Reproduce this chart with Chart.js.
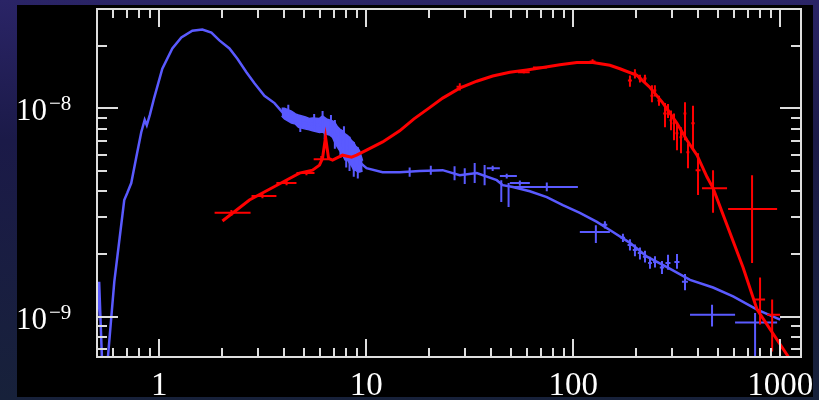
<!DOCTYPE html>
<html>
<head>
<meta charset="utf-8">
<script src="https://cdn.jsdelivr.net/npm/chart.js@4.4.1/dist/chart.umd.min.js"></script>
<style>
  html, body { margin: 0; padding: 0; }
  body {
    width: 819px; height: 400px; overflow: hidden; position: relative;
    background: linear-gradient(180deg, #2a2466 0%, #1b1a48 35%, #17213a 100%);
  }
  #panel { position: absolute; left: 17px; top: 5px; width: 796px; height: 392px; background: #000; }
  #wrap { position: absolute; left: 0; top: 0; width: 819px; height: 400px; }
</style>
</head>
<body>
<div id="panel"></div>
<div id="wrap"><canvas id="c"></canvas></div>
<script>
// axis ranges (keV, flux)
const X_MIN = 0.5, X_MAX = 1260;
const Y_MIN = 6.4e-10, Y_MAX = 3e-8;

const xTicks = [1, 10, 100, 1000];
const xTickLabels = ['1', '10', '100', '1000'];
const yTicks = [1e-8, 1e-9];
const yTickExp = ['\u22128', '\u22129'];

// model curves: [energy, flux]
const blueModel = [
  [0.5, 9.6e-10], [0.512, 1.47e-9], [0.53, 5.8e-10], [0.56, 5.8e-10], [0.606, 1.47e-9],
  [0.677, 3.63e-9], [0.70, 3.92e-9], [0.732, 4.38e-9], [0.774, 5.83e-9], [0.818, 7.68e-9],
  [0.85, 8.8e-9], [0.87, 8.3e-9], [0.90, 9.3e-9], [0.946, 1.13e-8], [1.034, 1.55e-8],
  [1.156, 1.94e-8], [1.278, 2.19e-8], [1.444, 2.36e-8], [1.614, 2.39e-8], [1.785, 2.31e-8],
  [1.951, 2.12e-8], [2.182, 1.94e-8], [2.384, 1.73e-8], [2.636, 1.49e-8], [2.882, 1.32e-8],
  [3.221, 1.15e-8], [3.601, 1.06e-8], [3.937, 9.57e-9], [4.40, 8.76e-9], [5.14, 8.48e-9],
  [5.94, 8.29e-9], [6.80, 8.11e-9], [7.18, 7.27e-9], [8.03, 6.51e-9], [8.59, 6.16e-9],
  [9.28, 5.51e-9], [10.03, 5.16e-9], [11.99, 4.94e-9], [14.49, 4.94e-9], [18.11, 5.0e-9],
  [23.39, 5.05e-9], [28.28, 4.78e-9], [34.17, 4.89e-9], [42.7, 4.52e-9], [45.65, 4.28e-9],
  [51.04, 4.19e-9], [61.66, 4.0e-9], [74.53, 3.75e-9], [89.05, 3.43e-9], [107.6, 3.15e-9],
  [130.1, 2.85e-9], [155.5, 2.55e-9], [187.9, 2.26e-9], [227.1, 1.94e-9], [283.8, 1.73e-9],
  [366.6, 1.50e-9], [473.6, 1.38e-9], [591.9, 1.25e-9], [773.2, 1.08e-9], [998.9, 9.67e-10]
];

// noisy spectrum band around the iron region: [energy, low, high]
const blueBand = [
  [3.9, 9.2e-9, 1.0e-8], [4.024, 8.9e-9, 1.0e-8], [4.351, 8.5e-9, 9.7e-9], [4.55, 8.4e-9, 9.4e-9],
  [4.704, 8.1e-9, 9.3e-9], [5.086, 7.95e-9, 9.1e-9], [5.3, 7.9e-9, 8.95e-9], [5.499, 7.8e-9, 9.0e-9],
  [5.943, 7.65e-9, 8.95e-9], [6.15, 7.7e-9, 9.2e-9], [6.427, 7.5e-9, 8.9e-9], [6.65, 7.45e-9, 8.8e-9],
  [6.871, 7.25e-9, 8.7e-9], [7.05, 6.85e-9, 8.55e-9], [7.263, 6.5e-9, 8.15e-9], [7.45, 6.25e-9, 7.95e-9],
  [7.68, 6.0e-9, 7.8e-9], [7.9, 5.65e-9, 7.55e-9], [8.121, 5.65e-9, 7.4e-9], [8.3, 5.45e-9, 7.25e-9],
  [8.49, 5.3e-9, 7.0e-9], [8.7, 5.05e-9, 6.85e-9], [8.876, 5.05e-9, 6.6e-9], [9.1, 4.95e-9, 6.45e-9],
  [9.282, 4.95e-9, 6.25e-9], [9.6, 5.0e-9, 5.6e-9]
];

const redModel = [
  [2.018, 2.88e-9], [2.725, 3.63e-9], [3.937, 4.42e-9], [4.756, 4.89e-9], [5.499, 5.05e-9],
  [5.943, 5.34e-9], [6.146, 5.76e-9], [6.356, 7.27e-9], [6.572, 5.76e-9], [6.871, 5.64e-9],
  [7.68, 5.96e-9], [8.49, 5.83e-9], [8.977, 5.96e-9], [10.03, 6.30e-9], [12.0, 6.9e-9],
  [14.5, 7.8e-9], [17.0, 8.9e-9], [20.0, 1.0e-8], [23.4, 1.12e-8], [28.28, 1.25e-8],
  [34.17, 1.35e-8], [40.83, 1.43e-8], [49.36, 1.49e-8], [59.65, 1.53e-8], [71.28, 1.57e-8],
  [86.14, 1.62e-8], [104.1, 1.66e-8], [124.4, 1.66e-8], [150.3, 1.61e-8], [168.1, 1.55e-8],
  [203.1, 1.44e-8], [234.8, 1.26e-8], [271.4, 1.06e-8], [317.1, 8.48e-9], [354.4, 7.03e-9],
  [396.3, 5.96e-9], [443.0, 4.68e-9], [473.6, 4.14e-9], [661.5, 1.72e-9], [773.2, 1.08e-9],
  [1092, 6.44e-10], [1150, 5.8e-10]
];

// data points: [x, xLo, xHi, y, yLo, yHi]
const blueCrosses = [
  [4.2, 4.2, 4.2, 9.5e-9, 9.0e-9, 1.04e-8], [4.8, 4.8, 4.8, 8.6e-9, 7.7e-9, 9.2e-9],
  [5.6, 5.6, 5.6, 8.4e-9, 7.8e-9, 9.4e-9], [6.3, 6.3, 6.3, 8.1e-9, 7.1e-9, 8.9e-9],
  [6.75, 6.75, 6.75, 8.0e-9, 7.4e-9, 9.3e-9], [7.5, 7.5, 7.5, 7.0e-9, 5.8e-9, 7.9e-9],
  [7.8, 7.8, 7.8, 6.8e-9, 6.0e-9, 8.2e-9], [8.0, 8.0, 8.0, 6.4e-9, 5.2e-9, 7.4e-9],
  [6.15, 6.15, 6.15, 8.3e-9, 7.7e-9, 9.7e-9], [7.05, 7.05, 7.05, 7.7e-9, 6.4e-9, 8.8e-9],
  [8.3, 8.3, 8.3, 6.3e-9, 5.0e-9, 7.3e-9], [8.7, 8.7, 8.7, 5.9e-9, 4.7e-9, 6.9e-9],
  [9.1, 9.1, 9.1, 5.6e-9, 4.6e-9, 6.5e-9],
  [16.2, 16.2, 16.2, 4.97e-9, 4.7e-9, 5.2e-9], [20.5, 20.5, 20.5, 5.05e-9, 4.8e-9, 5.3e-9],
  [26.7, 26.7, 26.7, 4.94e-9, 4.52e-9, 5.28e-9], [29.9, 29.9, 29.9, 4.73e-9, 4.33e-9, 5.16e-9],
  [33.4, 33.4, 33.4, 4.89e-9, 4.38e-9, 5.46e-9], [37.3, 37.3, 37.3, 4.78e-9, 4.28e-9, 5.34e-9],
  [44.9, 44.9, 44.9, 4.28e-9, 3.55e-9, 4.52e-9], [48.7, 48.7, 48.7, 4.05e-9, 3.36e-9, 4.38e-9],
  [40.8, 38.2, 44.2, 5.16e-9, 5.0e-9, 5.3e-9], [47.7, 44.2, 53.4, 4.73e-9, 4.6e-9, 4.85e-9],
  [55.2, 49.4, 61.7, 4.38e-9, 4.25e-9, 4.5e-9], [74.5, 51.0, 105.3, 4.19e-9, 4.0e-9, 4.4e-9],
  [128.6, 107.6, 150.3, 2.55e-9, 2.26e-9, 2.75e-9], [142.2, 138, 146, 2.76e-9, 2.65e-9, 2.87e-9],
  [173.8, 169, 178, 2.39e-9, 2.28e-9, 2.5e-9], [187.9, 183, 193, 2.21e-9, 2.08e-9, 2.35e-9],
  [198.6, 194, 203, 2.09e-9, 1.95e-9, 2.22e-9], [210, 205, 215, 2.02e-9, 1.88e-9, 2.15e-9],
  [222.1, 217, 227, 1.94e-9, 1.82e-9, 2.07e-9], [234.8, 230, 240, 1.81e-9, 1.70e-9, 1.94e-9],
  [248.3, 243, 254, 1.83e-9, 1.72e-9, 1.95e-9], [268.3, 262, 275, 1.72e-9, 1.60e-9, 1.85e-9],
  [287, 279, 295, 1.81e-9, 1.68e-9, 1.98e-9], [317.1, 308, 326, 1.83e-9, 1.70e-9, 2.0e-9],
  [346.7, 335, 358, 1.47e-9, 1.34e-9, 1.60e-9], [468.3, 366.6, 605.2, 1.02e-9, 8.96e-10, 1.14e-9],
  [756, 605, 966, 9.36e-10, 5.5e-10, 1.04e-9]
];

const redCrosses = [
  [2.23, 1.85, 2.76, 3.15e-9, 3.05e-9, 3.25e-9], [3.15, 2.79, 3.68, 3.79e-9, 3.7e-9, 3.9e-9],
  [4.12, 3.68, 4.60, 4.38e-9, 4.28e-9, 4.48e-9], [5.14, 4.60, 5.62, 4.89e-9, 4.78e-9, 5.0e-9],
  [6.06, 5.57, 6.72, 5.70e-9, 5.55e-9, 5.9e-9], [28.3, 27.3, 29.3, 1.27e-8, 1.22e-8, 1.32e-8],
  [57.7, 54.0, 61.6, 1.49e-8, 1.47e-8, 1.51e-8], [69.0, 63.9, 74.6, 1.57e-8, 1.55e-8, 1.59e-8],
  [124, 120, 128, 1.68e-8, 1.64e-8, 1.72e-8], [187.9, 183.7, 192, 1.36e-8, 1.27e-8, 1.44e-8],
  [198.6, 195, 202, 1.47e-8, 1.39e-8, 1.54e-8], [210, 206, 214, 1.39e-8, 1.33e-8, 1.45e-8],
  [222, 218, 226, 1.39e-8, 1.33e-8, 1.45e-8], [240, 236, 244, 1.15e-8, 1.07e-8, 1.29e-8],
  [248, 244, 252, 1.22e-8, 1.14e-8, 1.29e-8], [259.6, 255, 264, 1.09e-8, 1.03e-8, 1.15e-8],
  [277.5, 272, 283, 9.46e-9, 8.11e-9, 1.06e-8], [287, 282, 292, 9.78e-9, 9.0e-9, 1.05e-8],
  [296.7, 292, 301, 8.76e-9, 7.85e-9, 9.78e-9], [306.7, 302, 311, 8.48e-9, 7.03e-9, 9.46e-9],
  [317.1, 312, 322, 7.59e-9, 6.30e-9, 8.48e-9], [331.6, 326, 337, 7.27e-9, 6.09e-9, 8.11e-9],
  [346.7, 341, 352, 9.46e-9, 7.03e-9, 1.07e-8], [358.4, 352, 364, 6.16e-9, 5.16e-9, 6.80e-9],
  [378.9, 372, 386, 8.48e-9, 6.44e-9, 1.03e-8], [400.7, 390, 412, 5.05e-9, 3.84e-9, 6.09e-9],
  [473.6, 419, 553.5, 4.14e-9, 3.15e-9, 5.05e-9], [731, 560, 966, 3.29e-9, 1.81e-9, 4.78e-9],
  [799, 756, 845, 1.21e-9, 9.16e-10, 1.54e-9], [914, 864, 999, 1.02e-9, 6.8e-10, 1.21e-9]
];

const BLUE = '#5a5aff';
const RED = '#ff0000';
const AXIS = '#dedede';
const LABEL_FONT = '"Liberation Serif", "DejaVu Serif", serif';

const toXY = (arr) => arr.map((p) => ({ x: p[0], y: p[1] }));
const centers = (arr) => arr.map((p) => ({ x: p[0], y: p[3] }));

// minor tick values per decade
function logTicks(min, max) {
  const out = [];
  for (let e = Math.floor(Math.log10(min)); e <= Math.ceil(Math.log10(max)); e++) {
    for (let m = 1; m < 10; m++) {
      const v = m * Math.pow(10, e);
      if (v >= min * 0.999 && v <= max * 1.001) out.push({ v, major: m === 1 });
    }
  }
  return out;
}

const framePlugin = {
  id: 'frame',
  afterDatasetDraw(chart, args) {
    const ds = chart.data.datasets[args.index];
    if (!ds.bars) return;
    const { ctx, chartArea: a, scales: { x, y } } = chart;
    ctx.save();
    ctx.beginPath();
    ctx.rect(a.left, a.top, a.right - a.left, a.bottom - a.top);
    ctx.clip();
    ctx.strokeStyle = ds.borderColor;
    ctx.lineWidth = 2;
    ctx.beginPath();
    for (const [cx, xlo, xhi, cy, ylo, yhi] of ds.bars) {
      const px = x.getPixelForValue(cx);
      const py = y.getPixelForValue(cy);
      if (xhi > xlo) {
        ctx.moveTo(x.getPixelForValue(xlo), py);
        ctx.lineTo(x.getPixelForValue(xhi), py);
      }
      ctx.moveTo(px, y.getPixelForValue(ylo));
      ctx.lineTo(px, y.getPixelForValue(yhi));
    }
    ctx.stroke();
    ctx.restore();
  },
  afterDraw(chart) {
    const { ctx, chartArea: a, scales: { x, y } } = chart;
    ctx.save();
    ctx.strokeStyle = AXIS;
    ctx.lineWidth = 2;
    ctx.strokeRect(a.left, a.top, a.right - a.left, a.bottom - a.top);
    ctx.beginPath();
    for (const t of logTicks(X_MIN, X_MAX)) {
      const px = Math.round(x.getPixelForValue(t.v));
      if (px <= a.left + 1 || px >= a.right - 1) continue;
      const len = t.major ? 18 : 9;
      ctx.moveTo(px, a.bottom); ctx.lineTo(px, a.bottom - len);
      ctx.moveTo(px, a.top); ctx.lineTo(px, a.top + len);
    }
    for (const t of logTicks(Y_MIN, Y_MAX)) {
      const py = Math.round(y.getPixelForValue(t.v));
      if (py <= a.top + 1 || py >= a.bottom - 1) continue;
      const len = t.major ? 21 : 10;
      ctx.moveTo(a.left, py); ctx.lineTo(a.left + len, py);
      ctx.moveTo(a.right, py); ctx.lineTo(a.right - len, py);
    }
    ctx.stroke();

    // y labels: 10 with superscript exponent
    ctx.fillStyle = '#ffffff';
    ctx.textAlign = 'left';
    ctx.textBaseline = 'alphabetic';
    yTicks.forEach((v, i) => {
      const py = y.getPixelForValue(v);
      ctx.font = '31px ' + LABEL_FONT;
      ctx.fillText('10', 16, py + 12);
      const w = ctx.measureText('10').width;
      ctx.font = '21px ' + LABEL_FONT;
      ctx.fillText(yTickExp[i], 16 + w + 2, py + 2);
    });
    ctx.restore();
  }
};

new Chart(document.getElementById('c'), {
  type: 'line',
  data: {
    datasets: [
      { data: centers(redCrosses), bars: redCrosses, borderColor: RED, showLine: false, pointRadius: 0 },
      { data: toXY(redModel), borderColor: RED, borderWidth: 3, pointRadius: 0, tension: 0 },
      { data: centers(blueCrosses), bars: blueCrosses, borderColor: BLUE, showLine: false, pointRadius: 0 },
      { data: toXY(blueModel), borderColor: BLUE, borderWidth: 2.5, pointRadius: 0, tension: 0 },
      { data: blueBand.map((p) => ({ x: p[0], y: p[1] })), borderColor: BLUE, borderWidth: 1.5, pointRadius: 0, fill: false },
      { data: blueBand.map((p) => ({ x: p[0], y: p[2] })), borderColor: BLUE, borderWidth: 1.5, pointRadius: 0,
        fill: '-1', backgroundColor: BLUE }
    ]
  },
  options: {
    responsive: true,
    maintainAspectRatio: false,
    animation: false,
    layout: { padding: { left: 97, right: 18, top: 9, bottom: 0 } },
    plugins: { legend: { display: false }, tooltip: { enabled: false } },
    scales: {
      x: {
        type: 'logarithmic',
        min: X_MIN,
        max: X_MAX,
        grid: { display: false, drawTicks: false },
        border: { display: false },
        afterBuildTicks: (s) => { s.ticks = xTicks.map((v) => ({ value: v })); },
        afterFit: (s) => { s.height = 43; s.paddingLeft = 0; s.paddingRight = 0; },
        ticks: {
          autoSkip: false,
          maxRotation: 0,
          padding: 10,
          color: '#ffffff',
          font: { family: LABEL_FONT, size: 33 },
          callback: (v, i) => xTickLabels[i]
        }
      },
      y: {
        type: 'logarithmic',
        display: false,
        min: Y_MIN,
        max: Y_MAX
      }
    }
  },
  plugins: [framePlugin]
});
</script>
</body>
</html>
